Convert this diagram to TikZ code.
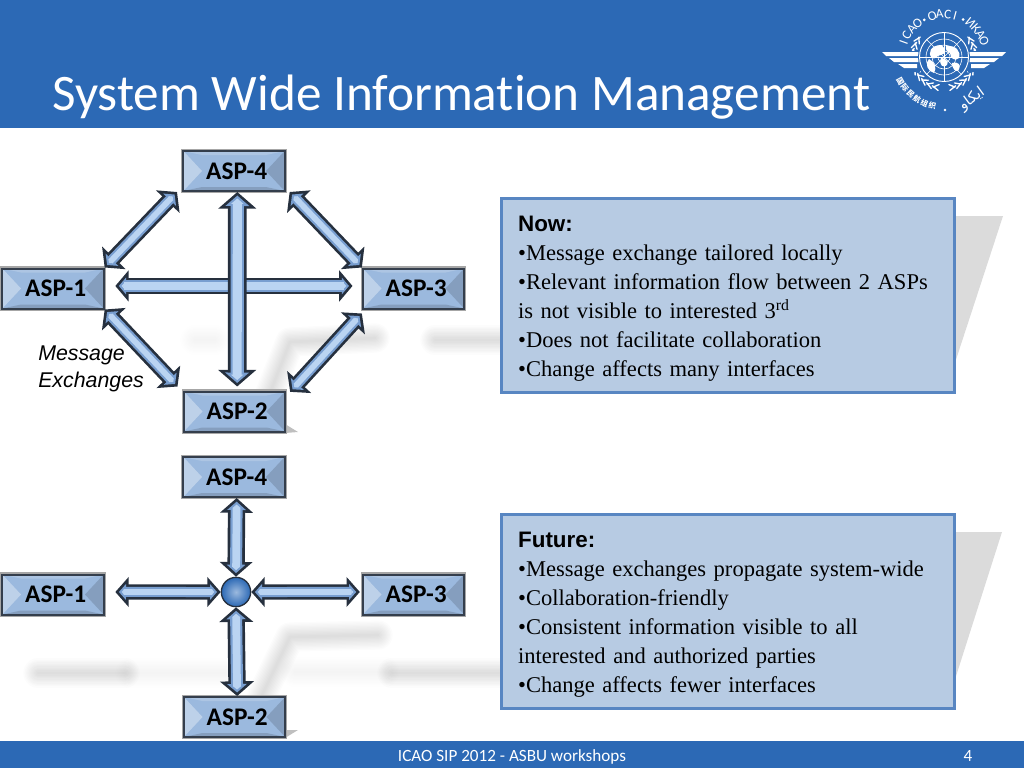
\documentclass[tikz,border=0pt]{standalone}
\usepackage{fontspec}
\setmainfont{Liberation Serif}
\newfontfamily\carlito[Ligatures=NoCommon]{Carlito}
\newfontfamily\helv{Liberation Sans}
\newfontfamily\cjkfont{Noto Sans CJK SC}
\newfontfamily\arabicfont[Script=Arabic]{DejaVu Sans}
\TeXXeTstate=1
\usetikzlibrary{arrows.meta,positioning,shapes.geometric}
\definecolor{ICAO}{RGB}{44,105,181}
\definecolor{aspfill}{RGB}{155,185,222}
\definecolor{aspedge}{RGB}{52,62,76}
\definecolor{linkdark}{RGB}{38,48,62}
\definecolor{panelfill}{RGB}{183,203,227}
\definecolor{paneledge}{RGB}{88,134,194}
\tikzset{aspbox/.style={rectangle, draw=aspedge, line width=1.5pt, fill=aspfill, minimum width=76pt, minimum height=30pt,
 inner sep=0pt, font=\carlito\bfseries\fontsize{19}{20}\selectfont, execute at begin node=\hspace*{4pt}, preaction={draw=black!35, line width=3.2pt},
 path picture={
  \fill[white, opacity=.35] (path picture bounding box.north west) -- (path picture bounding box.south west)
   -- ([xshift=14pt]path picture bounding box.west) -- cycle;
  \fill[black, opacity=.14] (path picture bounding box.north east) -- (path picture bounding box.south east)
   -- ([xshift=-14pt]path picture bounding box.east) -- cycle;
  \fill[white, opacity=.18] (path picture bounding box.north west) -- (path picture bounding box.north east)
   -- ([xshift=-14pt,yshift=-3pt]path picture bounding box.north east) -- ([xshift=14pt,yshift=-3pt]path picture bounding box.north west) -- cycle;
  \fill[black, opacity=.14] (path picture bounding box.south west) -- (path picture bounding box.south east)
   -- ([xshift=-14pt,yshift=3pt]path picture bounding box.south east) -- ([xshift=14pt,yshift=3pt]path picture bounding box.south west) -- cycle;
 }}}
\tikzset{panel/.style={rectangle, draw=paneledge, line width=2.2pt, fill=panelfill, anchor=north west, minimum width=340pt, minimum height=145.5pt,
 text width=315pt, align=left, inner xsep=0pt, inner ysep=0pt, font=\fontsize{16.9}{21.75}\selectfont}}
\newcommand{\panelhead}[1]{{\helv\bfseries\fontsize{16.8}{21.75}\selectfont\rule{0pt}{16.7pt}#1}}
\tikzset{bartext/.style={text=white, font=\carlito\fontsize{12.85}{14}\selectfont, inner sep=0pt}}
\tikzset{linkbody/.style n args={3}{line width=#1pt, {Triangle[width=#2pt,length=#3pt]}-{Triangle[width=#2pt,length=#3pt]}}}
\tikzset{logoletter/.style={text=white, inner sep=0pt, font=\carlito\fontsize{10}{11}\selectfont}}
% double arrow: shaft, head width, head length, from, to
\newcommand{\exch}[5]{
  \draw[linkdark, linkbody={#1}{#2}{#3}] (#4) -- (#5);
  \foreach \inset in {2,3.6}{
    \pgfmathsetmacro{\off}{\inset*sqrt(1+(2*#3/#2)^2)}
    \pgfmathsetmacro{\hl}{#3-\inset-\off}
    \pgfmathsetmacro{\hw}{#2*\hl/#3}
    \pgfmathsetmacro{\sw}{#1-2*\inset}
    \definecolor{linktone}{RGB}{120,158,208}
    \ifdim\inset pt>2.5pt \definecolor{linktone}{RGB}{186,212,242}\fi
    \draw[linktone, linkbody={\sw}{\hw}{\hl}, shorten >=\off pt, shorten <=\off pt] (#4) -- (#5);
  }
}
% blurred shadow band
\newcommand{\softband}[2][.012]{
  \foreach \w in {22,20,...,2}{
    \draw[black, opacity=#1, line width=\w pt, line cap=round, line join=round] #2;
  }
}
\begin{document}
\begin{tikzpicture}[x=0.75pt,y=-0.75pt]
  \useasboundingbox (0,0) rectangle (1024,768);
  % shadows
  \fill[black!14] (950,216) -- (1003,216) -- (950,378) -- cycle;
  \fill[black!14] (950,532) -- (1002,532) -- (950,695) -- cycle;
  \softband[.005]{(195,340) -- (215,340)}
  \softband[.011]{(268,398) -- (290,342) -- (375,338)}
  \softband[.012]{(435,340) -- (500,340)}
  \softband[.012]{(38,673) -- (125,673)}
  \softband[.005]{(130,673) -- (225,673)}
  \softband[.011]{(262,695) -- (290,637) -- (378,635)}
  \softband[.005]{(295,672) -- (385,672)}
  \softband[.012]{(392,673) -- (500,673)}
  \fill[black!25] (285,424) -- (298,432) -- (285,433) -- cycle;
  \fill[black!25] (285,730) -- (298,730) -- (285,738) -- cycle;

  % bars
  \fill[ICAO] (0,0) rectangle (1024,128);
  \fill[ICAO] (0,741) rectangle (1024,768);
  \node[text=white, anchor=base west, inner sep=0pt, font=\carlito\fontsize{38.4}{42}\selectfont] (title) at (52,110) {System Wide Information Management};
  \node[bartext, anchor=base] (foot) at (512,761) {ICAO SIP 2012 - ASBU workshops};
  \node[bartext, anchor=base] (pageno) at (968,761) {4};

  % now
  \node[aspbox] (nowfour) at (234,171) {ASP-4};
  \node[aspbox] (nowone) at (53,288.5) {ASP-1};
  \node[aspbox] (nowthree) at (413.5,288.5) {ASP-3};
  \node[aspbox] (nowtwo) at (234.5,411.5) {ASP-2};
  \exch{11.5}{24}{10}{[xshift=-4pt]nowfour.south west}{nowone.north east}
  \exch{11.5}{24}{10}{[xshift=3pt]nowfour.south east}{nowthree.north west}
  \exch{11.5}{24}{10}{nowone.south east}{[xshift=-4pt,yshift=3pt]nowtwo.north west}
  \exch{11.5}{24}{10}{[yshift=-3pt]nowthree.south west}{[xshift=3pt,yshift=-1pt]nowtwo.north east}
  \exch{12.5}{23}{10}{[xshift=8pt,yshift=1.9pt]nowone.east}{[xshift=-7pt,yshift=1.9pt]nowthree.west}
  \exch{14}{28}{12.5}{[xshift=2.5pt]nowfour.south}{[xshift=2pt,yshift=3pt]nowtwo.north}
  \node[anchor=north west, align=left, inner sep=0pt, font=\helv\itshape\fontsize{16}{20}\selectfont] (msgs) at (38,346) {Message\\Exchanges};

  % future
  \node[aspbox] (nextfour) at (234,477) {ASP-4};
  \node[aspbox] (nextone) at (53,594.5) {ASP-1};
  \node[aspbox] (nextthree) at (413.5,594.5) {ASP-3};
  \node[aspbox] (nexttwo) at (234.5,717) {ASP-2};
  \node[circle, minimum size=22pt, inner sep=0pt, draw=linkdark, line width=1pt, inner color=aspfill, outer color=ICAO] (hub) at (236,592) {};
  \exch{13}{24}{11}{[xshift=2pt]nextfour.south}{hub.north}
  \exch{13}{25}{11}{hub.south}{[xshift=2pt]nexttwo.north}
  \exch{11.5}{22}{10}{[xshift=8pt,yshift=1.9pt]nextone.east}{hub.west}
  \exch{11.5}{22}{10}{hub.east}{[xshift=-1.5pt,yshift=1.9pt]nextthree.west}

  % panels
  \node[panel] (nowtext) at (500,197)
   {\panelhead{Now:}\\
    •Message exchange tailored locally\\
    •Relevant information flow between 2 ASPs\\
    is not visible to interested 3\textsuperscript{rd}\\
    •Does not facilitate collaboration\\
    •Change affects many interfaces};
  \node[panel] (nexttext) at (500,513)
   {\panelhead{Future:}\\
    •Message exchanges propagate system-wide\\
    •Collaboration-friendly\\
    •Consistent information visible to all\\
    interested and authorized parties\\
    •Change affects fewer interfaces};

  % logo
  \begin{scope}[shift={(944,57)}]
    \foreach \c/\a in {I/160,C/150,A/139,O/128,O/106,A/96,C/85,I/75,И/52,К/42,А/32,О/22}
      \node[logoletter, rotate=\a-90] at ({43*cos(\a)},{-43*sin(\a)}) {\c};
    \foreach \a in {118,63}
      \fill[white] ({42*cos(\a)},{-42*sin(\a)}) circle (1.5);
    \foreach \c/\a in {国/209,际/218.5,民/228,航/237.5,组/247,织/256.5}
      \node[text=white, inner sep=0pt, rotate=\a+90, font=\cjkfont\bfseries\fontsize{5.6}{6}\selectfont] at ({50*cos(\a)},{-50*sin(\a)}) {\c};
    \fill[white] (1,53) circle (1.3);
    \node[text=white, inner sep=0pt, rotate=36, font=\arabicfont\fontsize{11}{12}\selectfont] (arab) at (28,42) {\beginR ايكاو\endR};
    % wreath
    \foreach \s in {1,-1}{
      \foreach \a in {-28,-16,...,85}{
        \draw[white, line width=1pt, line cap=round] ({\s*28*sin(\a+90)},{-28*cos(\a+90)}) -- ({\s*32*sin(\a+80)},{-32*cos(\a+80)});
        \draw[white, line width=1pt, line cap=round] ({\s*34*sin(\a+90)},{-34*cos(\a+90)}) -- ({\s*31*sin(\a+78)},{-31*cos(\a+78)});
      }
      % wing
      \fill[ICAO] (\s*24,-6) rectangle (\s*64,15);
      \fill[white] (\s*62,-5) -- (\s*25,-5) -- (\s*25,-1) -- (\s*58,-1) -- cycle;
      \fill[white] (\s*55,1) -- (\s*25,1) -- (\s*25,5) -- (\s*50,5) -- cycle;
      \fill[white] (\s*46,7) -- (\s*27,7) -- (\s*27,11) -- (\s*40,11) -- cycle;
    }
    % globe
    \fill[ICAO] (0,0) circle (26);
    \draw[white, line width=.7pt] (0,0) circle (24.5);
    \foreach \r in {6,12,18}
      \draw[white, line width=.45pt] (0,0) circle (\r);
    \foreach \a in {0,45,...,315}
      \draw[white, line width=.45pt] (0,0) -- (\a:24.5);
    \fill[white] (-3,-12) .. controls (-13,-12) and (-17,-4) .. (-12,1) .. controls (-9,3) and (-7,-2) .. (-3,-2) .. controls (2,-3) and (3,-8) .. cycle;
    \fill[white] (2,-11) .. controls (12,-12) and (17,-6) .. (15,1) .. controls (11,5) and (6,1) .. (6,-4) .. controls (3,-5) and (1,-8) .. cycle;
    \fill[white] (-15,2) .. controls (-20,6) and (-16,15) .. (-10,16) .. controls (-7,11) and (-9,5) .. cycle;
    \fill[white] (-3,1) .. controls (-6,8) and (0,12) .. (3,8) .. controls (5,5) and (2,1) .. cycle;
    \fill[white] (8,6) .. controls (14,4) and (18,8) .. (14,14) .. controls (11,15) and (8,11) .. cycle;
  \end{scope}
\end{tikzpicture}
\end{document}
